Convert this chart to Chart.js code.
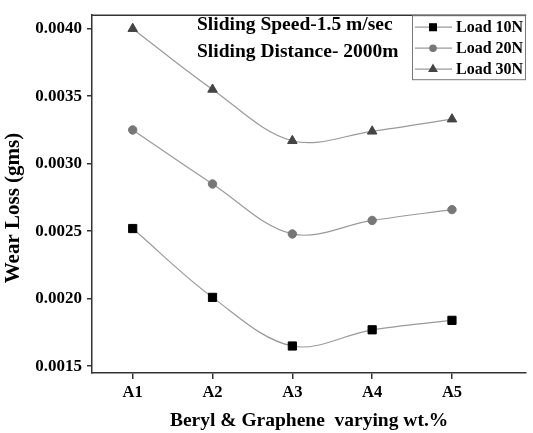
<!DOCTYPE html>
<html>
<head>
<meta charset="utf-8">
<script src="https://cdn.jsdelivr.net/npm/chart.js@4.4.0/dist/chart.umd.min.js"></script>
<style>
  html, body { margin: 0; padding: 0; background: #fff; }
  #wrap { width: 533px; height: 433px; }
</style>
</head>
<body>
<div id="wrap"><canvas id="c"></canvas></div>
<script>
// data
const categories = ['A1', 'A2', 'A3', 'A4', 'A5'];
const load10 = [0.00252, 0.00201, 0.00165, 0.00177, 0.00184];
const load20 = [0.00325, 0.00285, 0.00248, 0.00258, 0.00266];
const load30 = [0.00400, 0.00355, 0.00317, 0.00324, 0.00333];
const yTicks = [0.0015, 0.0020, 0.0025, 0.0030, 0.0035, 0.0040];
const notes = ['Sliding Speed-1.5 m/sec', 'Sliding Distance- 2000m'];
const yTitle = 'Wear Loss (gms)';

const serif = '"Liberation Serif", "Times New Roman", serif';

function pts(arr) {
  return arr.map((v, i) => ({x: i, y: v}));
}

function series(label, arr, style, color, radius) {
  return {
    label: label,
    data: pts(arr),
    borderColor: '#9a9a9a',
    borderWidth: 1.2,
    tension: 0.35,
    pointStyle: style,
    pointRadius: radius,
    pointHoverRadius: radius,
    pointBackgroundColor: color,
    pointBorderColor: color,
    pointBorderWidth: 1
  };
}

// top frame line, y title, notes and legend box
const extras = {
  id: 'extras',
  afterDraw(chart) {
    const ctx = chart.ctx;
    const a = chart.chartArea;
    ctx.save();
    ctx.strokeStyle = '#333';
    ctx.lineWidth = 1.5;
    ctx.beginPath();
    ctx.moveTo(a.left, a.top);
    ctx.lineTo(a.right, a.top);
    ctx.stroke();

    ctx.fillStyle = '#000';
    ctx.textBaseline = 'middle';

    // y axis title
    ctx.save();
    ctx.translate(14, 208);
    ctx.rotate(-Math.PI / 2);
    ctx.textAlign = 'center';
    ctx.font = 'bold 21px ' + serif;
    ctx.fillText(yTitle, 0, 0);
    ctx.restore();

    ctx.font = 'bold 19.5px ' + serif;
    ctx.fillText(notes[0], 197, 25);
    ctx.fillText(notes[1], 197, 52);

    // legend
    const bx = 412, by = a.top, bw = 113, bh = 64;
    ctx.strokeStyle = '#777';
    ctx.lineWidth = 1;
    ctx.strokeRect(bx + 0.5, by + 0.5, bw, bh);
    chart.data.datasets.forEach((ds, i) => {
      const y = by + 12 + i * 21;
      ctx.strokeStyle = ds.borderColor;
      ctx.lineWidth = 1.2;
      ctx.beginPath();
      ctx.moveTo(bx + 3, y);
      ctx.lineTo(bx + 40, y);
      ctx.stroke();
      ctx.fillStyle = ds.pointBackgroundColor;
      ctx.strokeStyle = ds.pointBorderColor;
      Chart.helpers.drawPoint(ctx, {pointStyle: ds.pointStyle, radius: ds.pointRadius - 1, borderWidth: 1}, bx + 21, y);
      ctx.fillStyle = '#000';
      ctx.font = 'bold 16px ' + serif;
      ctx.fillText(ds.label, bx + 44, y + 1);
    });
    ctx.restore();
  }
};

new Chart(document.getElementById('c'), {
  type: 'line',
  data: {
    datasets: [
      series('Load 10N', load10, 'rect', '#000', 5.8),
      series('Load 20N', load20, 'circle', '#777', 4.2),
      series('Load 30N', load30, 'triangle', '#444', 5.5)
    ]
  },
  options: {
    responsive: true,
    maintainAspectRatio: false,
    animation: false,
    layout: {padding: {left: 0, right: 2, top: 13, bottom: 0}},
    plugins: {
      legend: {display: false},
      tooltip: {enabled: false}
    },
    scales: {
      x: {
        type: 'linear',
        min: -0.51,
        max: 4.93,
        afterBuildTicks: (s) => { s.ticks = categories.map((c, i) => ({value: i})); },
        afterFit: (s) => { s.height = 60; },
        ticks: {
          color: '#000',
          font: {family: serif, size: 16.5, weight: 'bold'},
          padding: 4,
          maxRotation: 0,
          callback: (v) => categories[v]
        },
        grid: {drawOnChartArea: false, tickLength: 6, color: '#333', lineWidth: 1.5},
        border: {color: '#333', width: 1.5},
        title: {
          display: true,
          text: 'Beryl & Graphene  varying wt.%',
          color: '#000',
          font: {family: serif, size: 19.5, weight: 'bold'},
          padding: {top: 0, bottom: 0}
        }
      },
      y: {
        min: 0.00145,
        max: 0.0041,
        afterBuildTicks: (s) => { s.ticks = yTicks.map(v => ({value: v})); },
        afterFit: (s) => { s.width = 92; },
        ticks: {
          color: '#000',
          font: {family: serif, size: 17, weight: 'bold'},
          padding: 5,
          callback: (v) => v.toFixed(4)
        },
        grid: {drawOnChartArea: false, tickLength: 5, color: '#333', lineWidth: 1.5},
        border: {color: '#333', width: 1.5}
      }
    }
  },
  plugins: [extras]
});
</script>
</body>
</html>
